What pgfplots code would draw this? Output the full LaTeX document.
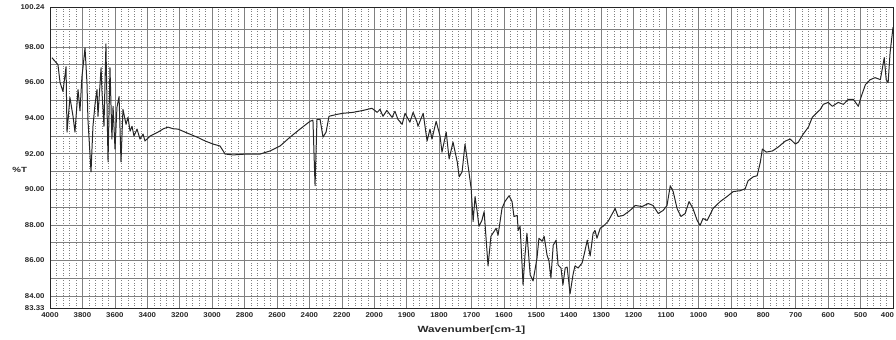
\documentclass[border=0pt]{standalone}
\usepackage{fontspec}
\setmainfont{Liberation Sans}
\newfontfamily\tickfont{Liberation Sans Bold}[FakeStretch=1.12]
\newfontfamily\labelfont{Liberation Sans Bold}[FakeStretch=1.3]
\usepackage{pgfplots}
\usepackage{pgfplotstable}
\pgfplotsset{compat=1.18}

% FT-IR transmittance spectrum: wavenumber (cm^-1) and %T
\pgfplotstableread{
w t
3988 97.39
3970 97.20
3951 97.00
3938 96.00
3920 95.49
3901 96.89
3895 93.21
3877 95.16
3858 94.10
3846 93.21
3827 95.60
3815 94.40
3803 96.33
3796 96.89
3784 97.94
3772 95.99
3766 93.93
3747 90.98
3735 93.54
3722 94.80
3710 95.60
3704 94.10
3685 96.83
3679 95.44
3667 93.54
3655 98.17
3642 91.54
3630 96.83
3618 92.82
3611 94.66
3599 92.26
3587 94.60
3574 95.21
3562 91.54
3550 94.49
3531 93.65
3519 94.04
3506 93.26
3494 93.54
3482 92.99
3463 93.38
3445 92.82
3426 93.10
3414 92.71
3383 92.99
3334 93.21
3300 93.40
3272 93.49
3240 93.40
3210 93.38
3167 93.21
3093 92.93
3040 92.70
2994 92.54
2951 92.43
2920 91.98
2871 91.93
2785 91.98
2704 91.98
2643 92.15
2581 92.43
2519 92.93
2458 93.38
2396 93.82
2378 93.88
2365 90.20
2353 93.93
2334 93.93
2316 92.93
2297 93.21
2279 94.10
2229 94.21
2192 94.27
2131 94.32
2069 94.43
2014 94.55
1991 94.32
1982 94.49
1973 94.10
1961 94.43
1945 94.04
1936 94.38
1927 93.93
1914 93.65
1905 94.27
1890 93.77
1880 94.32
1868 93.77
1865 93.54
1849 94.27
1837 92.71
1828 93.38
1822 92.82
1809 93.82
1797 92.99
1791 92.09
1778 93.21
1769 91.70
1757 92.65
1744 91.54
1738 90.70
1729 90.98
1720 92.54
1710 91.26
1701 90.03
1695 88.19
1689 89.59
1683 88.81
1677 87.92
1668 88.25
1661 88.75
1649 85.69
1640 87.36
1634 87.53
1624 87.81
1618 87.42
1606 88.92
1597 89.31
1584 89.64
1575 89.31
1569 88.47
1559 88.53
1556 87.69
1550 87.92
1541 84.63
1535 86.30
1529 87.53
1519 85.19
1510 84.85
1498 86.13
1492 87.25
1482 87.08
1476 87.36
1467 86.30
1461 85.97
1455 85.02
1448 86.86
1439 87.14
1433 85.74
1424 85.58
1418 84.63
1411 85.58
1405 85.63
1396 84.13
1387 85.19
1381 85.69
1371 85.58
1359 85.86
1353 86.30
1343 87.14
1334 86.25
1325 87.53
1319 87.69
1313 87.25
1303 87.81
1294 87.92
1279 88.19
1257 88.92
1248 88.47
1232 88.53
1211 88.81
1195 89.09
1174 89.03
1155 89.20
1140 89.09
1124 88.64
1109 88.81
1097 89.09
1087 90.20
1078 89.87
1066 88.92
1054 88.47
1041 88.64
1029 89.31
1017 88.92
1004 88.25
995 87.97
986 88.36
973 88.25
955 88.92
933 89.31
912 89.59
893 89.87
871 89.92
856 90.03
847 90.48
831 90.70
819 90.76
809 91.54
803 92.26
791 92.09
772 92.15
754 92.37
732 92.71
717 92.82
701 92.54
692 92.65
677 93.10
661 93.49
649 94.04
624 94.49
615 94.77
600 94.88
587 94.66
569 94.88
553 94.77
538 95.05
522 95.05
507 94.66
498 95.21
485 95.88
470 96.16
455 96.27
439 96.16
427 97.39
421 96.16
415 95.99
409 97.67
400 99.10
}\spectrum

\begin{document}
\begin{tikzpicture}
\begin{axis}[
  scale only axis,
  width=843bp, height=301bp,
  xmin=0, xmax=26,
  ymin=83.33, ymax=100.24,
  xtick={0,...,26},
  xticklabels={4000,3800,3600,3400,3200,3000,2800,2600,2400,2200,2000,1900,1800,1700,1600,1500,1400,1300,1200,1100,1000,900,800,700,600,500,{\hspace*{-11bp}400}},
  ytick={83.33,84,85,86,87,88,89,90,91,92,93,94,95,96,97,98,99,100.24},
  yticklabels={83.33,84.00,,86.00,,88.00,,90.00,,92.00,,94.00,,96.00,,98.00,,100.24},
  minor x tick num=4,
  minor y tick num=1,
  grid=both,
  major grid style={black!50, line width=0.5pt},
  minor grid style={black!50, line width=0.5pt, dotted},
  axis line style={black!85, line width=0.7pt},
  tick style={draw=none},
  ticklabel style={font=\tickfont\fontsize{7}{8}\selectfont, black!85},
  xticklabel style={yshift=-1bp},
  yticklabel style={xshift=-2bp},
  xlabel={Wavenumber[cm-1]},
  xlabel style={font=\labelfont\fontsize{9}{10}\selectfont, black!85, at={(axis description cs:0.5,-0.075)}, anchor=center},
  ylabel={\%T},
  ylabel style={font=\labelfont\fontsize{7.5}{8}\selectfont, black!85, rotate=-90, at={(axis description cs:-0.036,0.458)}, anchor=center},
]
\addplot[black!85, line width=1pt, line join=round]
  table[x expr={(4000-\thisrow{w})/200 + max(0,2000-\thisrow{w})/200}, y=t] {\spectrum};
\end{axis}
\pgfresetboundingbox
\useasboundingbox (-50bp,-32bp) rectangle (846bp,308bp);
\end{tikzpicture}
\end{document}
